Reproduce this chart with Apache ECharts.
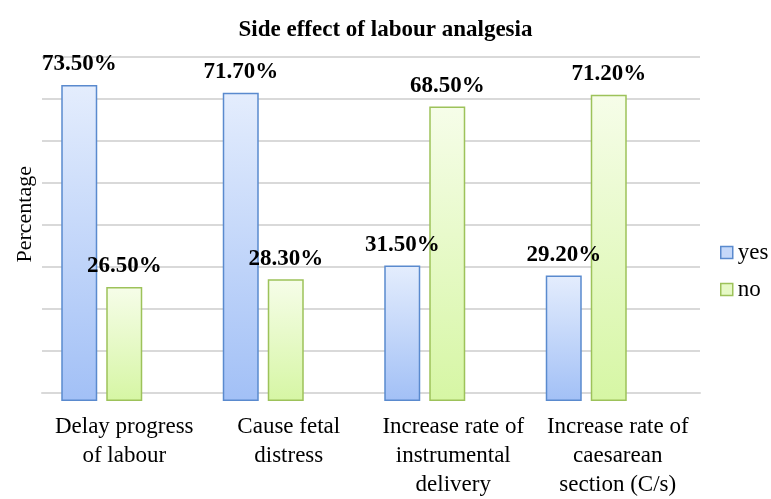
<!DOCTYPE html>
<html>
<head>
<meta charset="utf-8">
<script src="https://cdn.jsdelivr.net/npm/echarts@6/dist/echarts.min.js"></script>
<style>html,body{margin:0;padding:0;background:#fff;}#c{width:771px;height:499px;}</style>
</head>
<body>
<div id="c"></div>
<script>
const titleText = 'Side effect of labour analgesia';
const yName = 'Percentage';
const categories = ['Delay progress\nof labour', 'Cause fetal\ndistress', 'Increase rate of\ninstrumental\ndelivery', 'Increase rate of\ncaesarean\nsection (C/s)'];
const seriesNames = ['yes', 'no'];
const yesValues = [73.5, 71.7, 31.5, 29.2];
const noValues = [26.5, 28.3, 68.5, 71.2];

const serif = '"Liberation Serif", "DejaVu Serif", serif';
const TOP = 57, BOTTOM = 499 - 401;

const chart = echarts.init(document.getElementById('c'), null, {renderer: 'canvas'});

function grad(top, bottom) {
  return new echarts.graphic.LinearGradient(0, 0, 0, 1, [
    {offset: 0, color: top}, {offset: 1, color: bottom}
  ]);
}

const yesStyle = {color: grad('#e4edfd', '#a2c0f6'), borderColor: '#5a8ace', borderWidth: 1.5};
const noStyle = {color: grad('#f6fde9', '#d6f6a4'), borderColor: '#9dc25a', borderWidth: 1.5};

const labelCfg = {
  show: true, position: 'top', distance: 9,
  fontFamily: serif, fontWeight: 'bold', fontSize: 23, color: '#000',
  formatter: p => p.value.toFixed(2) + '%'
};

chart.setOption({
  animation: false,
  backgroundColor: '#fff',
  title: {
    text: titleText, left: 'center', top: 14,
    textStyle: {fontFamily: serif, fontWeight: 'bold', fontSize: 23, color: '#000'}
  },
  legend: {
    orient: 'vertical', left: 715, top: 236, itemGap: 14,
    itemWidth: 12, itemHeight: 12, icon: 'rect',
    textStyle: {fontFamily: serif, fontSize: 23, color: '#000'},
    data: [
      {name: 'yes', itemStyle: {color: '#c5d8f9', borderColor: '#5a8ace', borderWidth: 1.5}},
      {name: 'no', itemStyle: {color: '#e6f9c6', borderColor: '#9dc25a', borderWidth: 1.5}}
    ]
  },
  graphic: [{
    type: 'text', left: 14, top: 166, rotation: Math.PI / 2,
    style: {text: yName, font: '22px ' + serif, fill: '#000'}
  }],
  grid: [
    {left: 42, right: 71, top: TOP, bottom: BOTTOM, containLabel: false},
    {left: 21, width: 646, top: TOP, bottom: BOTTOM, containLabel: false}
  ],
  xAxis: [
    {
      type: 'category', gridIndex: 0, data: categories,
      axisLine: {show: true, lineStyle: {color: '#d9d9d9', width: 2}},
      axisTick: {show: false},
      axisLabel: {fontFamily: serif, fontSize: 23, color: '#000', lineHeight: 29, margin: 19, interval: 0}
    },
    {
      type: 'category', gridIndex: 1, data: categories,
      axisLine: {show: false}, axisTick: {show: false}, axisLabel: {show: false}
    }
  ],
  yAxis: [
    {
      type: 'value', gridIndex: 0, min: 0, max: 80, interval: 10,
      axisLabel: {show: false}, axisLine: {show: false}, axisTick: {show: false},
      splitLine: {lineStyle: {color: '#d9d9d9', width: 2}}
    },
    {
      type: 'value', gridIndex: 1, min: 0, max: 80, interval: 10,
      axisLabel: {show: false}, axisLine: {show: false}, axisTick: {show: false},
      splitLine: {show: false}
    }
  ],
  series: [
    {name: seriesNames[0], type: 'bar', xAxisIndex: 1, yAxisIndex: 1, data: yesValues,
     barWidth: 36, barGap: '25%', itemStyle: yesStyle, label: labelCfg},
    {name: seriesNames[1], type: 'bar', xAxisIndex: 1, yAxisIndex: 1, data: noValues,
     barWidth: 36, barGap: '25%', itemStyle: noStyle, label: labelCfg}
  ]
});
</script>
</body>
</html>
